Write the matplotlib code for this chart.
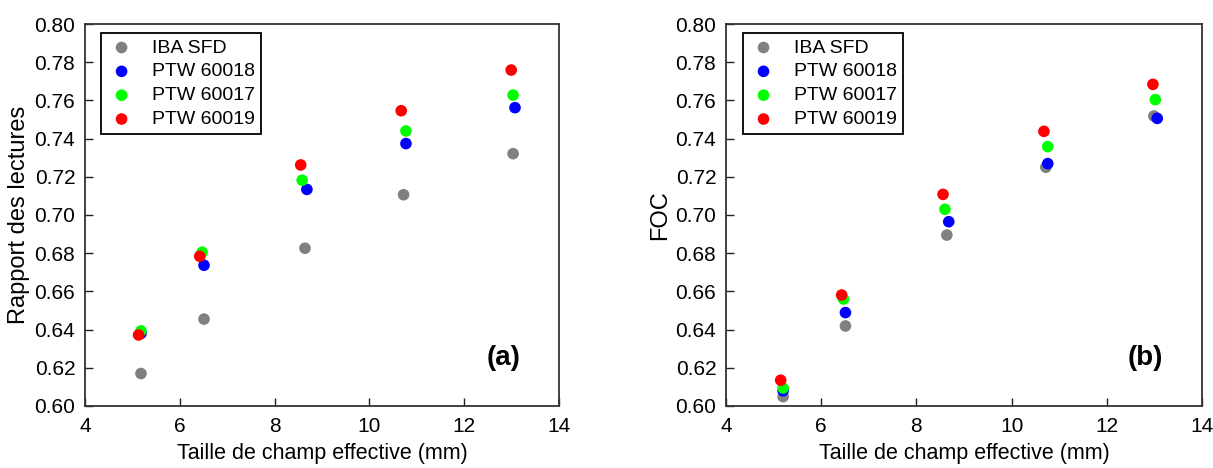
import matplotlib
matplotlib.use('Agg')
import matplotlib.pyplot as plt

plt.rcParams['font.family'] = ['Liberation Sans', 'DejaVu Sans']

series = ['IBA SFD', 'PTW 60018', 'PTW 60017', 'PTW 60019']
colors = ['#808080', '#0000ff', '#00ff00', '#ff0000']

# panel (a): rapport des lectures
xa = {
    'IBA SFD':   [5.18, 6.51, 8.64, 10.72, 13.03],
    'PTW 60018': [5.18, 6.51, 8.68, 10.77, 13.07],
    'PTW 60017': [5.18, 6.47, 8.58, 10.77, 13.03],
    'PTW 60019': [5.13, 6.42, 8.55, 10.67, 12.99],
}
ya = {
    'IBA SFD':   [0.617, 0.6455, 0.6826, 0.7106, 0.7321],
    'PTW 60018': [0.638, 0.6737, 0.7134, 0.7374, 0.7562],
    'PTW 60017': [0.6393, 0.6805, 0.7182, 0.744, 0.7628],
    'PTW 60019': [0.6372, 0.6784, 0.7262, 0.7546, 0.7759],
}

# panel (b): FOC
xb = {
    'IBA SFD':   [5.20, 6.51, 8.64, 10.72, 12.99],
    'PTW 60018': [5.20, 6.51, 8.68, 10.76, 13.06],
    'PTW 60017': [5.20, 6.47, 8.60, 10.76, 13.02],
    'PTW 60019': [5.15, 6.43, 8.56, 10.68, 12.97],
}
yb = {
    'IBA SFD':   [0.6049, 0.6419, 0.6895, 0.725, 0.7518],
    'PTW 60018': [0.608, 0.6489, 0.6965, 0.7269, 0.7506],
    'PTW 60017': [0.6094, 0.656, 0.703, 0.7358, 0.7604],
    'PTW 60019': [0.6135, 0.6581, 0.7108, 0.7438, 0.7684],
}

xticks = [4, 6, 8, 10, 12, 14]
yticks = [0.60, 0.62, 0.64, 0.66, 0.68, 0.70, 0.72, 0.74, 0.76, 0.78, 0.80]


def panel(ax, xs, ys, ylabel, tag, legx):
    for name, c in zip(series, colors):
        ax.scatter(xs[name], ys[name], s=70, color=c, edgecolors='none',
                   label=name, zorder=3)
    ax.set_xlim(4, 14)
    ax.set_ylim(0.60, 0.80)
    ax.set_xticks(xticks)
    ax.set_yticks(yticks)
    ax.set_yticklabels(['%.2f' % v for v in yticks])
    ax.tick_params(direction='in', length=6, width=1, labelsize=15,
                   color='#222222', top=False, right=False)
    ax.tick_params(axis='x', pad=8)
    ax.tick_params(axis='y', pad=7)
    for sp in ax.spines.values():
        sp.set_linewidth(1.3)
        sp.set_color('#333333')
    ax.set_xlabel('Taille de champ effective (mm)', fontsize=15.5, labelpad=5)
    ax.set_ylabel(ylabel, fontsize=17, labelpad=3)
    ax.text(0.918, 0.126, tag, transform=ax.transAxes, fontsize=20,
            fontweight='bold', ha='right', va='center')
    leg = ax.legend(loc='upper left', bbox_to_anchor=(legx, 0.976),
                    borderaxespad=0, fontsize=14, fancybox=False,
                    edgecolor='black', framealpha=1, labelspacing=0.32,
                    handlelength=1.5, handletextpad=0.8, borderpad=0.3,
                    scatterpoints=1)
    leg.get_frame().set_linewidth(1.3)


fig = plt.figure(figsize=(12.13, 4.68), dpi=100)
ax1 = fig.add_axes([0.0701, 0.1325, 0.3908, 0.8162])
ax2 = fig.add_axes([0.5985, 0.1325, 0.3924, 0.8162])

panel(ax1, xa, ya, 'Rapport des lectures', '(a)', 0.034)
panel(ax2, xb, yb, 'FOC', '(b)', 0.036)

fig.savefig('out.png', dpi=100)
